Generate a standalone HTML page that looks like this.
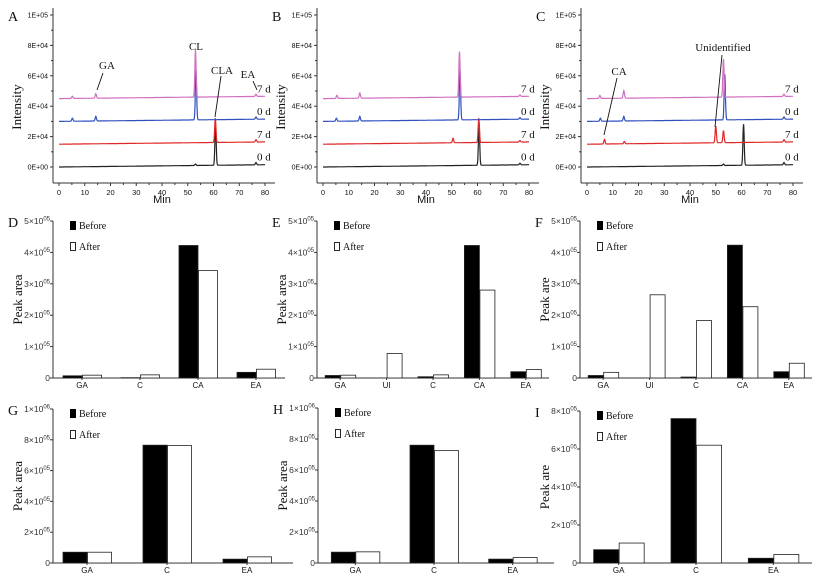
<!DOCTYPE html>
<html><head><meta charset="utf-8"><style>
body{margin:0;background:#fff}
svg text{font-family:"Liberation Sans",sans-serif}
.serif{font-family:"Liberation Serif",serif}
</style></head><body>
<svg id="fig" width="815" height="583" viewBox="0 0 815 583" xmlns="http://www.w3.org/2000/svg"></svg>
<script>
// ---------- Chromatogram data (peaks: [time, height in 1E4]) ----------
const chromTraceLabels = ["0 d","7 d","0 d","7 d"];
const chromBaselines = [0, 1.5, 3.0, 4.5];
const chromColors = ["#222222","#e02828","#3050c0","#d070c0"];
const chromA = [
  [[53,0.1],[60.8,2.7],[76.5,0.15]],
  [[60.7,1.6],[76.5,0.15]],
  [[5.2,0.2],[14.3,0.3],[53.2,3.3],[76.5,0.15]],
  [[5.2,0.15],[14.3,0.3],[53,3.1],[76.5,0.15]]
];
const chromB = [
  [[60.6,2.8],[76.5,0.1]],
  [[50.5,0.3],[60.5,1.6],[76.5,0.1]],
  [[5.2,0.2],[14.3,0.3],[53.2,3.3],[76.5,0.1]],
  [[5.4,0.2],[14.3,0.35],[53,3.0],[76.5,0.1]]
];
const chromC = [
  [[53,0.1],[60.8,2.7],[76.5,0.15]],
  [[6.8,0.3],[14.5,0.15],[50,1.1],[53,0.8],[76.5,0.15]],
  [[5.2,0.2],[14.3,0.3],[53.5,3.0],[76.5,0.15]],
  [[5.0,0.2],[14.3,0.5],[53,2.5],[76.5,0.15]]
];
const chromYTicks = ["0E+00","2E+04","4E+04","6E+04","8E+04","1E+05"];
const chromXTicks = [0,10,20,30,40,50,60,70,80];

// ---------- Bar data (values in units of 1E5) ----------
const catsD = ["GA","C","CA","EA"];
const beforeD = [0.07,0.01,4.22,0.18];
const afterD = [0.09,0.10,3.42,0.28];
const catsE = ["GA","UI","C","CA","EA"];
const beforeE = [0.08,0,0.04,4.22,0.20];
const afterE = [0.09,0.78,0.10,2.80,0.27];
const catsF = ["GA","UI","C","CA","EA"];
const beforeF = [0.08,0,0.03,4.23,0.20];
const afterF = [0.18,2.65,1.83,2.27,0.47];
const catsG = ["GA","C","EA"];
const beforeG = [0.70,7.65,0.25];
const afterG = [0.70,7.63,0.40];
const catsH = ["GA","C","EA"];
const beforeH = [0.70,7.60,0.25];
const afterH = [0.72,7.25,0.35];
const catsI = ["GA","C","EA"];
const beforeI = [0.70,7.60,0.25];
const afterI = [1.05,6.20,0.45];
const ticks5 = [0,1,2,3,4,5];
const ticks10 = [0,2,4,6,8,10];
const ticks8 = [0,2,4,6,8];

const NS="http://www.w3.org/2000/svg";
const svg=document.getElementById('fig');
function mk(tag,attrs,parent){const e=document.createElementNS(NS,tag);for(const k in attrs)e.setAttribute(k,attrs[k]);(parent||svg).appendChild(e);return e;}
function txt(x,y,s,size,cls,anchor,parent){const t=mk('text',{x:x,y:y,'font-size':size,'text-anchor':anchor||'start',fill:'#111'},parent);if(cls)t.setAttribute('class',cls);t.textContent=s;return t;}

function chrom(ox,peaksSet,letter,annots){
  const g=mk('g',{});
  
  
  const axX=ox, x0=ox+6, x1=ox+212, yB=167, yT=15, yAx=183;
  const sx=t=>x0+(t/80)*(x1-x0);
  const sy=v=>yB-(v/10)*(yB-yT);
  const lt=txt(ox-45,21,letter,14,'serif','start',g);
  
  const ya=mk('line',{x1:axX,y1:8,x2:axX,y2:yAx,stroke:'#333','stroke-width':1},g);
  
  const xa=mk('line',{x1:axX,y1:yAx,x2:ox+222,y2:yAx,stroke:'#333','stroke-width':1},g);
  
  chromYTicks.forEach((s,i)=>{const y=sy(i*2);mk('line',{x1:axX-3,y1:y,x2:axX,y2:y,stroke:'#333'},g);
    if(i<5)mk('line',{x1:axX-2,y1:sy(i*2+1),x2:axX,y2:sy(i*2+1),stroke:'#333'},g);
    const t=txt(axX-5,y+2.5,s,7,null,'end',g);});
  chromXTicks.forEach(v=>{const x=sx(v);mk('line',{x1:x,y1:yAx,x2:x,y2:yAx+3,stroke:'#333'},g);
    if(v<80)mk('line',{x1:sx(v+5),y1:yAx,x2:sx(v+5),y2:yAx+2,stroke:'#333'},g);
    const t=txt(x,yAx+12,String(v),7.5,null,'middle',g);});
  const yt=txt(0,0,'Intensity',13,'serif','middle',g);yt.setAttribute('transform',`translate(${ox-32},${(yT+yAx)/2+8}) rotate(-90)`);
  
  const xt=txt((x0+x1)/2,203,'Min',11,null,'middle',g);
  peaksSet.forEach((peaks,k)=>{
    let d='';
    for(let t=0;t<=80;t+=0.1){
      let v=chromBaselines[k]+0.15*t/80;
      peaks.forEach(p=>{v+=p[1]*Math.exp(-Math.pow((t-p[0])/0.35,2));});
      d+=(t===0?'M':'L')+sx(t).toFixed(1)+','+sy(v).toFixed(1);
    }
    const p=mk('path',{d:d,fill:'none',stroke:chromColors[k],'stroke-width':1.2},g);
    
    
    const lb=txt(x1-8,sy(chromBaselines[k]+0.15)-4,chromTraceLabels[k],11,'serif','start',g);
    
  });
  (annots||[]).forEach(a=>{
    const t=txt(a.tx,a.ty,a.s,11,'serif','middle',g);
    if(a.l)mk('line',{x1:a.l[0],y1:a.l[1],x2:a.l[2],y2:a.l[3],stroke:'#111','stroke-width':0.9},g);
  });
}
chrom(53,chromA,'A',[
  {s:'GA',tx:107,ty:69,l:[103,73,97,90]},
  {s:'CL',tx:196,ty:50},
  {s:'CLA',tx:222,ty:74,l:[221,76,215,117]},
  {s:'EA',tx:248,ty:78,l:[253,81,257,90]}]);
chrom(317,chromB,'B',[]);
chrom(581,chromC,'C',[
  {s:'CA',tx:619,ty:75,l:[617,78,604,135]},
  {s:'Unidentified',tx:723,ty:51,l:[722,55,715,127]}]);

function sup(t,base,exp){t.textContent='';const a=document.createElementNS(NS,'tspan');a.textContent=base;t.appendChild(a);
  const b=document.createElementNS(NS,'tspan');b.setAttribute('dy','-3.5');b.setAttribute('font-size','6');b.textContent=exp;t.appendChild(b);}

function bars(ax,yTop,yZero,maxV,ticks,tickFmt,cats,bef,aft,letter,title,bw,width,shift){
  const g=mk('g',{});
  
  
  const sy=v=>yZero-(v/maxV)*(yZero-yTop);
  const band=width/cats.length;
  const lt=txt(ax-45,yTop+6,letter,14,'serif','start',g);
  const ya=mk('line',{x1:ax,y1:yTop,x2:ax,y2:yZero,stroke:'#333'},g);
  const xa=mk('line',{x1:ax,y1:yZero,x2:ax+width,y2:yZero,stroke:'#333'},g);
  ticks.forEach(v=>{const y=sy(v);mk('line',{x1:ax-3,y1:y,x2:ax,y2:y,stroke:'#333'},g);
    const t=txt(ax-3,y+3,'',8.5,null,'end',g);t.setAttribute('fill','#333');
    
    if(v===0)t.textContent='0';else{const f=tickFmt(v);sup(t,f[0],f[1]);}});
  const yt=txt(0,0,title,13,'serif','middle',g);yt.setAttribute('transform',`translate(${ax-31},${(yTop+yZero)/2}) rotate(-90)`);
  
  cats.forEach((c,i)=>{const cx=ax+band*(i+0.5)+(shift||0);
    const rb=mk('rect',{x:cx-bw,y:sy(bef[i]),width:bw,height:yZero-sy(bef[i]),fill:'#000',stroke:'#222','stroke-width':0.8},g);
    
    const ra=mk('rect',{x:cx+0.5,y:sy(aft[i]),width:bw,height:yZero-sy(aft[i]),fill:'#fff',stroke:'#222','stroke-width':0.8},g);
    
    mk('line',{x1:cx,y1:yZero,x2:cx,y2:yZero+2,stroke:'#333'},g);
    const t=txt(cx,yZero+10,c,8,null,'middle',g);});
  const lx=ax+17;
  const lb=mk('rect',{x:lx,y:yTop,width:6,height:9,fill:'#000'},g);
  const t1=txt(lx+9,yTop+8,'Before',10,'serif','start',g);
  const la=mk('rect',{x:lx+0.5,y:yTop+21.5,width:5,height:8,fill:'#fff',stroke:'#111','stroke-width':0.9},g);
  const t2=txt(lx+9,yTop+29,'After',10,'serif','start',g);
}
const f5=v=>[v+'×10','05'];
const f10=v=>v===10?['1×10','06']:[v+'×10','05'];
bars(53,221,378,5,ticks5,f5,catsD,beforeD,afterD,'D','Peak area',19,232,0);
bars(317,221,378,5,ticks5,f5,catsE,beforeE,afterE,'E','Peak area',15,232,0);
bars(580,221,378,5,ticks5,f5,catsF,beforeF,afterF,'F','Peak are',15,232,0);
bars(53,409,563,10,ticks10,f10,catsG,beforeG,afterG,'G','Peak area',24,240,-6);
bars(318,408,563,10,ticks10,f10,catsH,beforeH,afterH,'H','Peak area',24,236,-2);
bars(580,411,563,8,ticks8,f5,catsI,beforeI,afterI,'I','Peak are',25,232,0);
</script>
</body></html>
